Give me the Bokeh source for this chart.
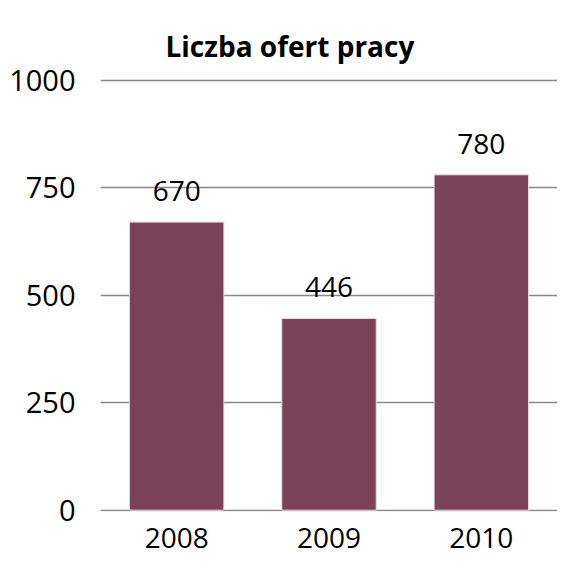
from bokeh.plotting import figure
from bokeh.models import ColumnDataSource, FactorRange, Range1d, FixedTicker
from bokeh.core.properties import value
from bokeh.embed import file_html
from bokeh.resources import INLINE

years = ["2008", "2009", "2010"]
offers = [670, 446, 780]
labels = ["670", "446", "780"]
y_ticks = [0, 250, 500, 750, 1000]

FONT = "Open Sans"

src = ColumnDataSource(data=dict(year=years, offers=offers, label=labels))

p = figure(
    x_range=FactorRange(factors=years),
    y_range=Range1d(-3, 1004),
    width=557, height=557,
    output_backend="svg", toolbar_location=None,
    min_border_left=100, min_border_right=0, min_border_top=78, min_border_bottom=46,
    title="Liczba ofert pracy",
)
p.x_range.range_padding = 0

p.title.align = "left"
p.title.text_font = FONT
p.title.text_font_style = "bold"
p.title.text_font_size = "28px"
p.title.text_color = "black"
p.title.offset = 65
p.title.standoff = 27

p.vbar(x="year", top="offers", width=0.62, source=src,
       fill_color="#7B4358", line_color="#E6DCE0", line_width=1)

p.text(x="year", y="offers", text="label", source=src,
       text_align="center", text_baseline="bottom", y_offset=-21,
       text_font=value(FONT), text_font_size="28px", text_color="black")

p.outline_line_color = None
p.background_fill_color = "white"
p.border_fill_color = "white"

p.xgrid.grid_line_color = None
p.ygrid.grid_line_color = "#898989"
p.ygrid.grid_line_width = 1.5
p.ygrid.ticker = FixedTicker(ticks=y_ticks)

p.yaxis.ticker = FixedTicker(ticks=y_ticks)
p.yaxis.axis_line_color = None
p.yaxis.major_tick_line_color = None
p.yaxis.minor_tick_line_color = None
p.yaxis.major_label_standoff = 19
p.yaxis.major_label_text_font = FONT
p.yaxis.major_label_text_font_size = "29px"
p.yaxis.major_label_text_color = "black"

p.xaxis.axis_line_color = None
p.xaxis.major_tick_line_color = None
p.xaxis.minor_tick_line_color = None
p.xaxis.major_label_standoff = 10
p.xaxis.major_label_text_font = FONT
p.xaxis.major_label_text_font_size = "28px"
p.xaxis.major_label_text_color = "black"

open("out.html", "w").write(file_html(p, INLINE))
